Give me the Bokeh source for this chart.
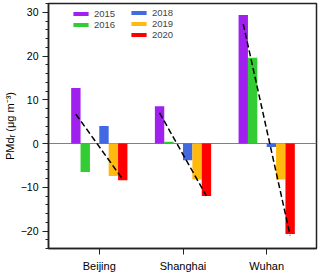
from bokeh.plotting import figure
from bokeh.models import FixedTicker, Range1d, Legend, LegendItem, Span
from bokeh.embed import file_html
from bokeh.resources import INLINE

# ---- data ----
cities = ["Beijing", "Shanghai", "Wuhan"]
years = ["2015", "2016", "2018", "2019", "2020"]
pmd_2015 = [12.7, 8.5, 29.4]
pmd_2016 = [-6.5, 0.4, 19.6]
pmd_2018 = [4.0, -3.8, -0.8]
pmd_2019 = [-7.4, -8.2, -8.2]
pmd_2020 = [-8.4, -12.0, -20.7]
trend_start = [6.7, 7.0, 27.3]    # dashed trend line value at 2015
trend_end = [-8.2, -12.0, -21.0]  # dashed trend line value at 2020
y_ticks = [-20, -10, 0, 10, 20, 30]
colors = ["#A020F0", "#32CD32", "#4169E1", "#FFB90F", "#FF0000"]
y_label = "PMd\u1d63 (\u03bcg m\u207b\u00b3)"

series = [pmd_2015, pmd_2016, pmd_2018, pmd_2019, pmd_2020]
FONT = "Liberation Sans"

# layout constants
city_x = [1, 2, 3]
bar_w = 0.112
def slot_offset(year):
    slot = int(year) - 2015          # 2017 slot stays empty
    return (slot - 2.5) * bar_w

p = figure(width=320, height=276, output_backend="svg", toolbar_location=None,
           x_range=Range1d(0.393, 3.595), y_range=Range1d(-24, 32),
           min_border_left=0, min_border_right=4, min_border_top=3,
           min_border_bottom=28)
p.grid.visible = False
p.background_fill_color = "white"
p.border_fill_color = "white"
p.outline_line_color = "#222222"
p.outline_line_width = 1.5

p.add_layout(Span(location=0, dimension="width", line_color="#808080",
                  line_width=1, level="underlay"))

renderers = []
for yr, vals, col in zip(years, series, colors):
    xs = [c + slot_offset(yr) for c in city_x]
    r = p.vbar(x=xs, top=vals, bottom=0, width=bar_w, fill_color=col,
               line_color=None)
    renderers.append(r)

x0 = [c + slot_offset("2015") for c in city_x]
x1 = [c + slot_offset("2020") for c in city_x]
p.segment(x0=x0, y0=trend_start, x1=x1, y1=trend_end, line_color="black",
          line_width=1.5, line_dash="6 3")

# axes
p.xaxis.ticker = FixedTicker(ticks=city_x)
p.xaxis.major_label_overrides = {c: n for c, n in zip(city_x, cities)}
p.xaxis.major_tick_out = 6
p.xaxis.major_tick_in = 0
p.xaxis.minor_tick_out = 0
p.xaxis.major_label_standoff = 5
p.xaxis.major_label_text_font = FONT
p.xaxis.major_label_text_font_size = "11px"

p.yaxis.ticker = FixedTicker(ticks=y_ticks, minor_ticks=list(range(-24, 33, 2)))
p.yaxis.major_tick_out = 6
p.yaxis.major_tick_in = 0
p.yaxis.minor_tick_out = 3
p.yaxis.minor_tick_in = 0
p.yaxis.major_label_standoff = 4
p.yaxis.major_label_text_font = FONT
p.yaxis.major_label_text_font_size = "10.5px"
p.yaxis.axis_label = y_label
p.yaxis.axis_label_text_font = FONT
p.yaxis.axis_label_text_font_size = "11px"
p.yaxis.axis_label_text_font_style = "normal"
p.yaxis.axis_label_text_color = "black"
p.yaxis.axis_label_standoff = 2
for ax in (p.xaxis, p.yaxis):
    ax.axis_line_color = "#222222"
    ax.axis_line_width = 1.5
    ax.major_tick_line_color = "#222222"
    ax.minor_tick_line_color = "#222222"
    ax.major_label_text_color = "black"

# legends (two columns)
def make_legend(idx, loc):
    items = [LegendItem(label=years[i], renderers=[renderers[i]]) for i in idx]
    lg = Legend(items=items, location=loc, orientation="vertical",
                glyph_width=19, glyph_height=5, label_standoff=4, spacing=0,
                label_height=10, padding=0, margin=0,
                label_text_font=FONT, label_text_font_size="9.5px",
                border_line_alpha=0, background_fill_alpha=0)
    return lg

p.add_layout(make_legend([0, 1], (23, 218)))
p.add_layout(make_legend([2, 3, 4], (81, 208)))

open("out.html", "w").write(file_html(p, INLINE))
